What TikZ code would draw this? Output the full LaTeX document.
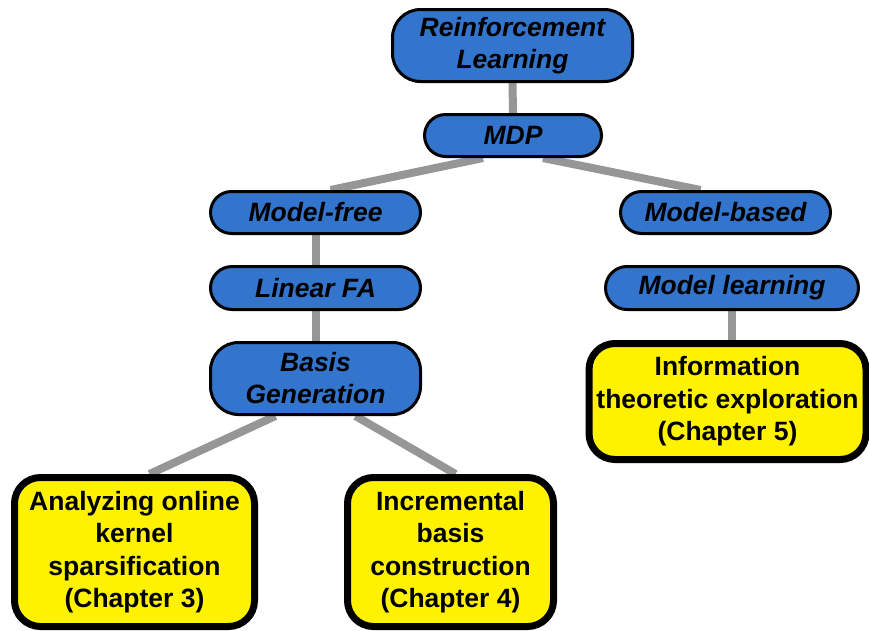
\documentclass[tikz,border=0pt]{standalone}
\usepackage{fontspec}
\setmainfont{Liberation Sans}
\usetikzlibrary{calc,backgrounds,shapes.misc}
\definecolor{nodeblue}{RGB}{51,116,204}
\definecolor{linkgray}{RGB}{150,150,150}
\begin{document}
\begin{tikzpicture}[x=1pt,y=-1pt,
  bluebox/.style={draw=black, line width=3pt, fill=nodeblue, rounded corners=28pt,
    align=center, inner sep=0pt,
    font=\fontsize{26.5}{32}\selectfont\bfseries\itshape},
  pill/.style={bluebox, rounded corners=0pt, rounded rectangle, rounded rectangle arc length=180},
  yellowbox/.style={draw=black, line width=7pt, fill=yellow, rounded corners=26pt,
    align=center, inner sep=0pt,
    font=\fontsize{26.5}{32.5}\selectfont\bfseries},
  link/.style={draw=linkgray, line width=8pt}]
\useasboundingbox (0,0) rectangle (869,630);

% topic hierarchy
\node[bluebox, minimum width=240pt, minimum height=72pt] (rl) at (512.5,45.5) {Reinforcement\\Learning};
\node[pill, minimum width=177pt, minimum height=42pt] (mdp) at (513,135.5) {MDP};
\node[pill, minimum width=210pt, minimum height=42pt] (mf) at (315.5,212.5) {Model-free};
\node[pill, minimum width=210pt, minimum height=43pt] (lfa) at (315.5,288) {Linear FA};
\node[bluebox, minimum width=210pt, minimum height=72pt] (bg) at (315.5,378.5) {Basis\\Generation};
\node[pill, minimum width=210pt, minimum height=42pt] (mb) at (725.5,212.5) {Model-based};
\node[pill, minimum width=253pt, minimum height=43pt] (ml) at (732,288) {Model learning};

% chapters
\node[yellowbox, minimum width=240pt, minimum height=149pt] (ch3) at (134.5,552) {Analyzing online\\kernel\\sparsification\\(Chapter 3)};
\node[yellowbox, minimum width=206pt, minimum height=149pt] (ch4) at (450.5,552) {Incremental\\basis\\construction\\(Chapter 4)};
\node[yellowbox, minimum width=277pt, minimum height=116pt] (ch5) at (727.5,401.5) {Information\\theoretic exploration\\(Chapter 5)};

% connectors behind the boxes
\begin{scope}[on background layer]
  \draw[link] (rl.south) -- (mdp.north);
  \draw[link] ($(mdp.south)+(-30,0)$) -- ($(mf.north)+(15,0)$);
  \draw[link] ($(mdp.south)+(30,0)$) -- ($(mb.north)+(-25,0)$);
  \draw[link] (mf.south) -- (lfa.north);
  \draw[link] (lfa.south) -- (bg.north);
  \draw[link] ($(bg.south)+(-40,0)$) -- ($(ch3.north)+(15,0)$);
  \draw[link] ($(bg.south)+(40,0)$) -- ($(ch4.north)+(5,0)$);
  \draw[link] (ml.south) -- (ch5.north -| ml.south);
\end{scope}
\end{tikzpicture}
\end{document}
